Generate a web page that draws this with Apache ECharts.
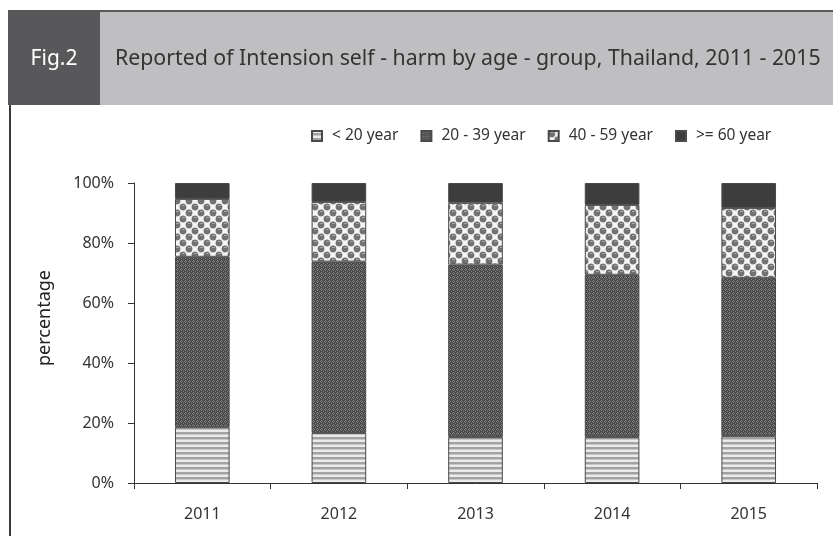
<!DOCTYPE html>
<html><head><meta charset="utf-8">
<script src="https://cdn.jsdelivr.net/npm/echarts@6/dist/echarts.min.js"></script>
<style>html,body{margin:0;padding:0;background:#fff}#c{width:833px;height:536px}</style>
</head><body><div id="c"></div>
<script>
const years = ['2011','2012','2013','2014','2015'];
const seriesNames = ['< 20 year','20 - 39 year','40 - 59 year','>= 60 year'];
const under20 = [18.6, 16.7, 15.3, 15.3, 15.7];
const age20to39 = [56.8, 57.1, 57.5, 54.1, 52.7];
const age40to59 = [19.3, 19.9, 20.6, 23.3, 23.3];
const age60plus = [5.3, 6.3, 6.6, 7.3, 8.3];
const yTicks = ['0%','20%','40%','60%','80%','100%'];

function pat(w, h, draw) {
  const c = document.createElement('canvas'); c.width = w; c.height = h;
  const g = c.getContext('2d'); draw(g); return {image: c, repeat: 'repeat'};
}
const pStripe = pat(1, 5, g => { g.fillStyle = '#ebebeb'; g.fillRect(0,0,1,5); g.fillStyle = '#a2a2a2'; g.fillRect(0,2,1,2); g.fillStyle = '#c8c8c8'; g.fillRect(0,4,1,1); });
const pCross = pat(4, 4, g => { g.fillStyle = '#4a4a4a'; g.fillRect(0,0,4,4); g.fillStyle = '#808080'; g.fillRect(1,0,1,1); g.fillRect(0,1,1,1); g.fillRect(2,1,1,1); g.fillRect(1,2,1,1); g.fillRect(3,3,1,1); });
const pBall = pat(12, 12, g => { g.fillStyle = '#f6f6f6'; g.fillRect(0,0,12,12); g.fillStyle = '#727272';
  [[3,3],[9,9],[-3,9],[9,-3],[15,3],[3,15]].forEach(p => { g.beginPath(); g.arc(p[0], p[1], 3.4, 0, Math.PI*2); g.fill(); });
  g.fillStyle = '#a8a8a8'; g.fillRect(2,1,3,1); g.fillRect(8,7,3,1); });
const fills = [pStripe, pCross, pBall, '#3d3d3d'];
const dataSets = [under20, age20to39, age40to59, age60plus];

const chart = echarts.init(document.getElementById('c'));
chart.setOption({
  animation: false,
  graphic: [
    {type:'rect', shape:{x:8,y:10,width:825,height:95}, style:{fill:'#bfbfc1'}},
    {type:'rect', shape:{x:8,y:10,width:825,height:2}, style:{fill:'#5a5a5a'}},
    {type:'rect', shape:{x:8,y:10,width:92,height:95}, style:{fill:'#58585a'}},
    {type:'rect', shape:{x:9,y:105,width:2,height:431}, style:{fill:'#3a3a3a'}},
    {type:'text', x:54, y:59, style:{text:'Fig.2', fill:'#ffffff', font:'21px "Noto Sans"', textAlign:'center', textVerticalAlign:'middle'}},
    {type:'text', x:115, y:59, style:{text:'Reported of Intension self - harm by age - group, Thailand, 2011 - 2015', fill:'#333333', font:'21.3px "Noto Sans"', textAlign:'left', textVerticalAlign:'middle'}},
    {type:'text', x:45, y:318, rotation: Math.PI/2, style:{text:'percentage', fill:'#222', font:'18px "Noto Sans"', textAlign:'center', textVerticalAlign:'middle'}}
  ],
  legend: {
    data: seriesNames, top: 123, left: 306, itemWidth: 10, itemHeight: 10, itemGap: 22,
    textStyle: {fontFamily: 'Noto Sans', fontSize: 15.5, color: '#333', padding: [0,0,0,5]},
    icon: 'rect'
  },
  grid: {left: 134, right: 16, top: 183, bottom: 53},
  xAxis: {
    type: 'category', data: years,
    axisLine: {lineStyle: {color: '#333'}},
    axisTick: {show: true, length: 6, lineStyle: {color: '#333'}},
    axisLabel: {margin: 23, fontFamily: 'Noto Sans', fontSize: 16, color: '#333'}
  },
  yAxis: {
    type: 'value', min: 0, max: 100, interval: 20,
    axisLine: {show: true, lineStyle: {color: '#333'}},
    axisTick: {show: true, length: 6, lineStyle: {color: '#333'}},
    splitLine: {show: false},
    axisLabel: {margin: 20, fontFamily: 'Noto Sans', fontSize: 16, color: '#333', formatter: v => yTicks[v / 20]}
  },
  series: seriesNames.map((n, i) => ({
    name: n, type: 'bar', stack: 'total', barWidth: '40%',
    data: dataSets[i],
    itemStyle: {color: fills[i], borderColor: '#4a4a4a', borderWidth: 1}
  }))
});
</script></body></html>
